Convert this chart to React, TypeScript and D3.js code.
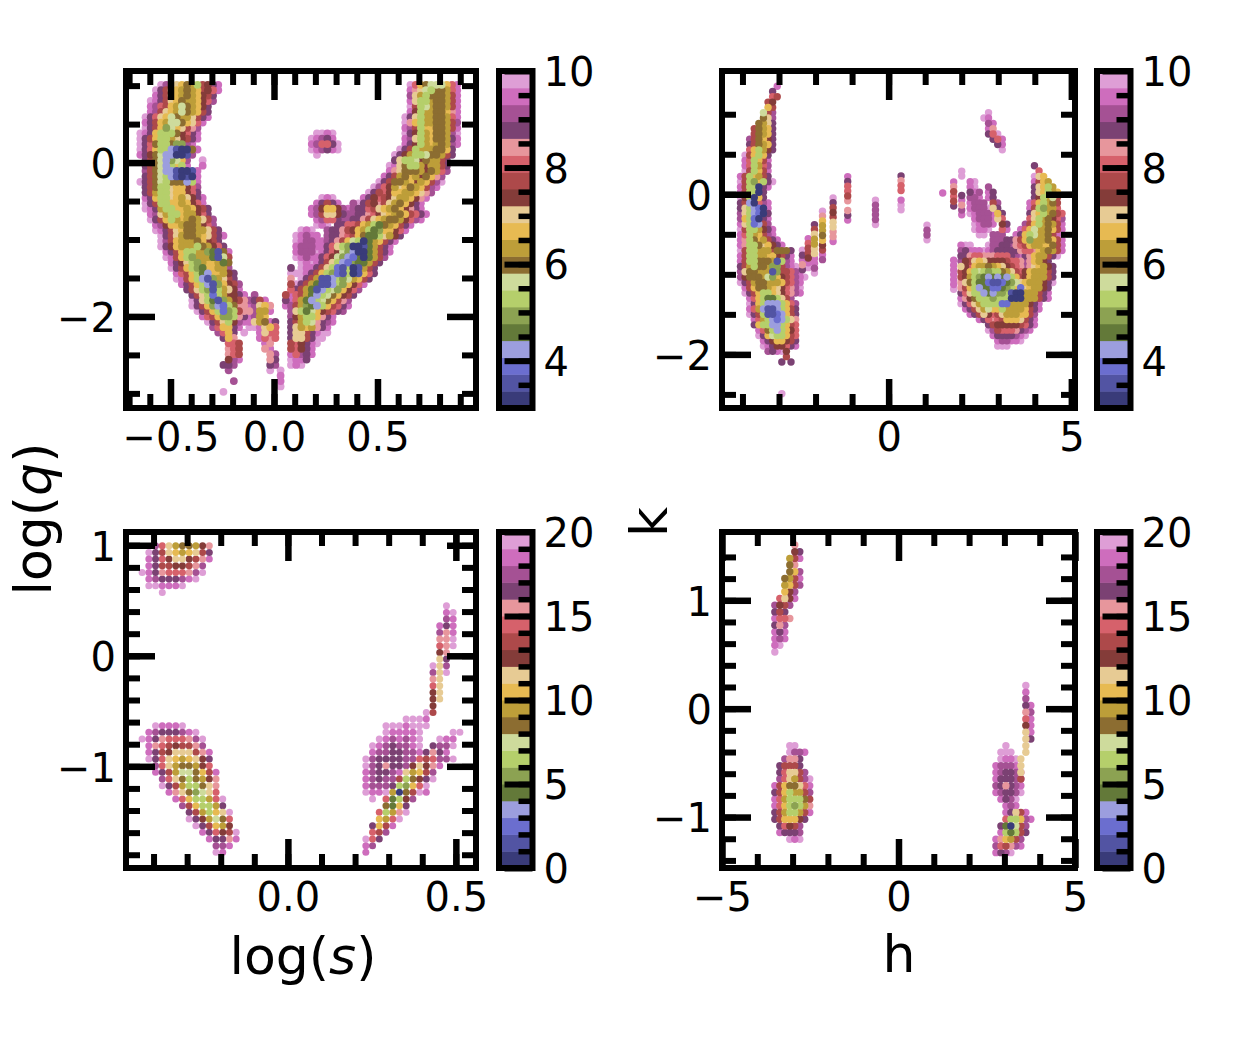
import { useEffect, useRef } from 'react';
import * as d3 from 'd3';

// tab20b, one letter per step a..t
const LEVELS = 'abcdefghijklmnopqrst';
const tab20b = [
    '#393b79', '#5254a3', '#6b6ecf', '#9c9ede', '#637939', '#8ca252', '#b5cf6b', '#cedb9c', '#8c6d31', '#bd9e39',
    '#e7ba52', '#e7cb94', '#843c39', '#ad494a', '#d6616b', '#e7969c', '#7b4173', '#a55194', '#ce6dbd', '#de9ed6',
];

type Row = [number, number, string]; // grid row, first grid column, one level letter per column

// top left, log(s) / log(q)
const aLeftBand: Row[] = [
    [0, 6, 'trolkijgnmqs'], [1, 5, 'tqnlkjijknmos'], [2, 5, 'sqnlkjijkmnq'], [3, 4, 'tsqnlkijjkmor'],
    [4, 4, 'sronkjhijkmq'], [5, 4, 'srnlkjhijknq'], [6, 3, 'tqolkhijjlnqs'], [7, 3, 'sqnkjhhiklos'],
    [8, 3, 'tqnkfhklnpr'], [9, 2, 'tsqkgggimoqs'], [10, 2, 'tqnkggjlmnqs'], [11, 2, 'tqoiggiffrs'],
    [12, 2, 'tqokggdbaais'], [13, 2, 'sqmihddaabr'], [14, 3, 'qnihdfhkr'], [14, 14, 't'],
    [15, 3, 'qnihdgkgs'], [15, 14, 's'], [16, 3, 'rnihddbaabs'], [17, 3, 'qnihgdbabas'],
    [18, 2, 'tqnihgiiidgs'], [19, 3, 'qnigglkkmor'], [20, 3, 'qnjgglkkmoq'], [21, 3, 'sqkgglkjlmqs'],
    [22, 3, 'tqnggkkjkmos'], [23, 3, 'tsqjggkkjkmnq'], [24, 4, 'srljggkjjmoq'], [25, 4, 'tqnkgjkjijlnr'],
    [26, 5, 'srmkkjiijmor'], [27, 5, 'tsqnlkiijjlnq'], [28, 6, 'tqnljiijklnqs'], [29, 6, 'trnkjjjikmnq'],
    [30, 6, 'tqmkjjjgijmoq'], [31, 7, 'sqnkggjjfebis'], [32, 7, 'tsnkgfjjjebhn'], [33, 8, 'sqmlgfjkkjei'],
    [34, 8, 'tqnkgfekkjjr'], [35, 9, 'sonkgedkkjmq'], [36, 9, 'tsnkgdbfjlnq'], [37, 10, 'sqnkgdbfkmnr'],
    [38, 11, 'qnlgfbgjlms'], [39, 12, 'qnlgcgjmmqs'], [39, 24, 'r'], [40, 12, 'tqlgebfjmnp'], [40, 23, 'rqns'],
    [41, 12, 'tqnkfdcgipps'], [41, 24, 'rlkp'], [42, 13, 'tqnkgcfgnpp'], [42, 24, 'rjjs'],
    [43, 14, 'sonkffgpqsrjk'], [44, 15, 'tqnlgmrss'], [44, 24, 'ljis'], [44, 28, 'q'],
    [45, 16, 'rokkqs'], [45, 23, 'tt'], [45, 25, 'slko'], [45, 28, 'p'],
    [46, 17, 'rokq'], [46, 22, 't'], [46, 25, 'slo'], [46, 28, 'o'],
    [47, 18, 'qkp'], [47, 25, 'sop'], [47, 28, 'o'], [48, 19, 'oon'], [48, 26, 'sp'],
    [49, 19, 'pon'], [49, 26, 'ps'], [50, 19, 'pon'], [50, 27, 'pr'], [51, 19, 'mrs'], [51, 27, 'pq'],
    [52, 18, 'qqr'], [52, 27, 'qr'], [53, 19, 'r'], [53, 27, 't'], [53, 29, 't'],
    [54, 29, 's'], [55, 20, 'r'], [55, 29, 's'], [56, 29, 't'], [57, 18, 't'],
];

const aRightBand: Row[] = [
    [0, 54, 'tokihhhkos'], [1, 54, 'splhgiijos'], [2, 54, 'rljgiiijns'], [3, 54, 'slggjiijns'],
    [4, 54, 'tnghjiijns'], [5, 54, 'smgjjiikps'], [6, 53, 'tqlgjjiijos'], [7, 53, 'tpkgjjiijnr'],
    [8, 53, 'srngkkiijns'], [9, 53, 'tqmgjkiijrt'], [10, 53, 'srlgjkiijqs'], [11, 53, 'sqmgjkjijrs'],
    [12, 52, 'tqngjjjiikq'], [13, 51, 'tqmjgghiijnq'], [14, 51, 'qlgghmijjnq'], [15, 50, 'tsliggjmjjnq'],
    [16, 50, 'spliiijmijor'], [17, 49, 'sqnjikjmikpr'], [18, 48, 'tqniijkmjknrt'], [19, 47, 'tromjlkijknrs'],
    [20, 46, 'tqnomkkjjklpr'], [21, 45, 'sqmonmljjkmps'], [22, 43, 'rtqnmpnljikmqs'], [23, 43, 'rqqonlkjikmpqs'],
    [24, 42, 'rrqqpomlkjiknoqs'], [25, 41, 'rrqqpnlkjiijmors'], [26, 40, 'qqoonkjgeijknqs'], [27, 38, 'rqqpnmkjgefkkmos'],
    [28, 38, 'rqqponkieegljmq'], [29, 37, 'srqpnkhgaejknqs'], [30, 37, 'sqolgfaabejnqs'], [31, 36, 'tsqomhfdaaejnqs'],
    [32, 36, 'sqomhfdceaejnr'], [33, 35, 'tsqnlgdcfeejnq'], [34, 34, 'tsqnlgcbgabjnq'], [35, 33, 'tsqnkgfcbgabkoq'],
    [36, 33, 'tqnjbbdgfhjknq'], [37, 32, 'tqnjebbdgfkmos'], [38, 32, 'qnjebdghfkmor'], [39, 31, 'sonjedghikmnq'],
    [40, 31, 'sojedghiknpr'], [41, 31, 'rnjfedgknoqs'], [41, 30, 's'], [42, 31, 'rlgehkmnoqr'], [43, 31, 'rmjggkpqs'],
    [44, 31, 'qnjghpqrs'], [45, 31, 'qljkjpqs'], [46, 31, 'qllnqs'], [46, 37, 'tt'], [47, 31, 'qllnqt'], [47, 37, 't'],
    [48, 31, 'nomqst'], [49, 31, 'nomqs'], [50, 31, 'sorqs'], [51, 31, 'tssq'], [52, 31, 'tst'],
];

const aIslands: Row[] = [
    [9, 36, 'ttst'], [10, 35, 'tsrqs'], [11, 35, 'srooqt'], [12, 35, 'tsrqst'], [13, 36, 't'],
    [21, 37, 'tst'], [22, 36, 'sqnqs'], [23, 35, 'srmkkmrs'], [24, 35, 'srnllmqs'], [25, 36, 'srooqs'], [26, 36, 'tst'],
    [27, 33, 'tst'], [28, 32, 'tsrss'], [29, 32, 'tsrrs'], [30, 32, 'srrrs'], [31, 32, 'srrrt'], [32, 32, 'tsrst'],
    [33, 33, 'tst'], [34, 31, 'q'], [34, 33, 'ts'], [35, 31, 'ttt'], [36, 31, 'p'], [37, 31, 'n'], [38, 31, 'o'], [39, 30, 'n'], [40, 30, 'q'],
];

// top right, h / k
const bLeftBand: Row[] = [
    [0, 9, 's'], [1, 8, 'q'], [2, 8, 'on'], [3, 7, 'nm'], [4, 7, 'kn'], [5, 6, 'hnr'], [6, 6, 'ilr'], [7, 5, 'ijlq'],
    [8, 4, 'nijkq'], [9, 4, 'nijkq'], [10, 3, 'rnikmq'], [11, 3, 'qnijkq'], [12, 3, 'okgjmq'], [13, 2, 'tnkgkq'],
    [14, 2, 'sogkns'], [15, 2, 'sogjor'], [16, 2, 'tngkns'], [17, 1, 'sngkjnq'], [18, 1, 'tngfkgqt'], [19, 1, 'snggaqs'],
    [20, 1, 'snggaq'], [21, 1, 'tmgakq'], [22, 1, 'qndaors'], [23, 1, 'qlgdcas'], [24, 1, 'rlgdcaq'], [25, 1, 'rkgcaqs'],
    [26, 1, 'slgcdnr'], [27, 1, 'tnggjmqs'], [28, 1, 'sogjknrs'], [29, 1, 'spgikjnqs'], [30, 1, 'spggilkmqs'],
    [31, 1, 'tnggjjjniiiq'], [32, 1, 'snggjjkkmnqs'], [33, 1, 'snggiiijbgrs'], [34, 1, 'qnjgiijffnrst'],
    [35, 1, 'rliijjjbfnnors'], [36, 1, 'rmiiijhfkmnorst'], [37, 1, 'tqnjiijjjknors'], [38, 2, 'snkiijklmoprt'],
    [39, 2, 'tqnkggklmoprs'], [40, 3, 'sokgeeglnr'], [41, 3, 'tqkgdddgkor'], [42, 3, 'sojdbbdgknq'], [43, 3, 'tqngbbcdknq'],
    [44, 4, 'sojgdcdglp'], [45, 4, 'qkggddgkno'], [46, 5, 'soigdgkmo'], [47, 5, 'tqkhggkno'], [48, 6, 'sqmkkmnq'],
    [49, 6, 'tsqmmoqs'], [50, 7, 'rqstm'], [51, 11, 'n'], [52, 10, 'q.q'], [58, 10, 't'],
];

const bRightBody: Row[] = [
    [5, 55, 't'], [6, 54, 'ts'], [7, 55, 'rs'], [8, 55, 'sp'], [9, 55, 'qot'], [10, 56, 'qos'], [11, 57, 'qs'], [12, 58, 't'],
    [15, 65, 'q'], [16, 66, 'o'], [17, 65, 'tlk'], [18, 65, 'snkj'], [18, 51, 'st'], [19, 51, 'st'], [19, 55, 'r'], [19, 65, 'qlkgj'],
    [20, 51, 'qsr'], [20, 55, 'sq'], [20, 65, 'qlkgjk'], [21, 51, 'rrs'], [21, 55, 'sq'], [21, 65, 'qmgjhn'],
    [22, 51, 'srrr'], [22, 56, 'nr'], [22, 64, 'sokgjin'], [23, 51, 'srrrt'], [23, 56, 'lq'], [23, 64, 'sngfjjo'],
    [24, 51, 'tsrrrs'], [24, 57, 'kq'], [24, 64, 'qlkgjino'], [25, 52, 'srrrs'], [25, 57, 'lo'], [25, 64, 'olgjimor'],
    [26, 52, 'tsrrs'], [26, 58, 'mq'], [26, 63, 'rnkgjijns'], [27, 52, 'tsst'], [27, 58, 'os'], [27, 62, 'sokhjjikns'],
    [28, 53, 'tt'], [28, 56, 'rrr'], [28, 61, 'sqkghjjins'], [29, 56, 'rrrqqpnkfjjjikns'],
    [30, 49, 'stt'], [30, 55, 'trrqqrponkjjkkins'], [31, 49, 'rqssstsrqqqqqpoopkjijns'],
    [32, 49, 'qqpoopppoooqrsqpkjjnqt'], [33, 49, 'rmnlklmmmmnooprpkjmq'],
    [34, 49, 'lmokjjijklmnoprplkjmq'], [35, 49, 'nmkghgfggijlnomkjjjnq'], [36, 49, 'nmjgfedededgknmkjjjnq'],
    [37, 49, 'pligeecbbcefhlkjjjmqt'], [38, 49, 'pnkgdeeccefgkclkjjmq'], [39, 49, 'qolggdedffgbaajjjnqs'],
    [40, 49, 'spmigggfgggaaajjjnqs'], [41, 49, 'tqoljggggccjjjjmqs'], [42, 50, 'sqnljhkkgjjjjknqs'],
    [43, 51, 'sqnlmonljjjkknr'], [44, 53, 'sqoponkkklnqs'], [45, 55, 'qnmmmmmnoqs'], [46, 55, 'trnooopqrs'],
    [47, 56, 'sqqqqrst'], [48, 57, 'srrsst'], [49, 57, 'ttt'],
];

// isolated vertical runs of the top right panel: h, first k, levels going down
const bStrips: [number, number, string][] = [
    [-2.36, -0.7, 'tqspq'], [-2.2, -0.554, 'sonnmst'], [-2.03, -0.379, 'qnljjllssrt'], [-1.81, -0.2125, 'tpkjjikmnsr'],
    [-1.52, -0.046, 'tqnmnllpps'], [-1.12, 0.221, 'sqoonp.pqs'], [-0.36, -0.075, 'trrrrt'], [0.34, 0.229, 'qpoo.stt'],
    [1.05, -0.3875, 'trrt'], [1.48, 0.016, 's'], [1.78, 0.154, 'spnonq'], [1.78, -0.825, 'sssssst'], [2.0, 0.2875, 'tt...qsprs'],
];

// bottom left, log(s) / log(q)
const cLeftGroup: Row[] = [
    [0, 2, 'roljiijmp'], [1, 1, 'tqnlkjklnq'], [2, 1, 'sqomllmnps'], [3, 1, 'sqnnmmnpr'],
    [4, 0, 'tsqpoooprt'], [5, 1, 'srqqqrst'], [6, 1, 'ttssst'], [7, 3, 't'],
    [27, 2, 'tssst'], [28, 1, 'srqqqrst'], [29, 0, 'tsqpoooprt'], [30, 1, 'sponmnnpr'],
    [31, 1, 'sqnmlllnps'], [32, 1, 'tqolkjklmq'], [33, 2, 'roljiijmo'], [34, 2, 'sqnjhhikns'],
    [35, 3, 'roligijmp'], [36, 3, 'tqnjggilp'], [37, 4, 'splifhlo'], [38, 5, 'sokggjot'], [39, 6, 'rnkggjq'],
    [40, 7, 'qnjgklt'], [41, 7, 'tqmjhio'], [42, 8, 'tqnkjm'], [43, 9, 'sqomnt'], [44, 10, 'sqqps'], [45, 11, 'rrs'], [46, 11, 'ts'],
];

const cRightGroup: Row[] = [
    [9, 12, 't'], [10, 12, 'st'], [11, 12, 'rs'], [12, 11, 'sqs'], [13, 11, 'rps'], [14, 11, 'ppt'], [15, 11, 'opt'],
    [16, 11, 'mp'], [17, 11, 'lq'], [18, 10, 'tlr'], [19, 10, 'rlt'], [20, 10, 'pl'], [21, 10, 'ol'], [22, 10, 'ml'], [23, 10, 'ml'],
    [24, 10, 'm'], [25, 9, 'tn'], [26, 6, 'ttts'], [27, 3, 'tttsttt'], [28, 3, 'tsssst'], [28, 13, 'tt'],
    [29, 2, 'tsrsrst'], [29, 11, 'tss'], [30, 1, 'tsrqrrst'], [30, 10, 'qrrt'], [31, 1, 'srrqqrrs'], [31, 9, 'qpqs'],
    [32, 0, 'trqqqqrronorrt'], [33, 0, 'trqpqqrmlmps'], [34, 0, 'srqqrsljknr'], [35, 0, 'srqrrngimqt'],
    [36, 0, 'srrrqgfkot'], [37, 0, 'tsstjaints'], [38, 1, 't'], [38, 3, 'oegmr'], [39, 3, 'iekq'], [40, 2, 'ogjpt'],
    [41, 2, 'kjot'], [42, 1, 'qkns'], [43, 1, 'onr'], [44, 0, 'toq'], [45, 0, 'sr'], [46, 0, 's'],
];

// bottom right, h / k
const dLeftGroup: Row[] = [
    [0, 4, 'p'], [1, 4, 'mq'], [2, 3, 'jns'], [3, 3, 'ip'], [4, 3, 'ikr'], [5, 2, 'ijns'], [6, 2, 'jknr'], [7, 2, 'kmr'],
    [8, 1, 'olms'], [9, 0, 'rmnr'], [10, 0, 'qnq'], [11, 0, 'soop'], [12, 0, 'qpr'], [13, 0, 'sqs'], [14, 0, 'srs'], [15, 0, 'st'], [16, 0, 't'],
    [30, 3, 'tt'], [31, 3, 'trrs'], [32, 2, 'rppq'], [33, 1, 'qnnnq'], [34, 1, 'qollnr'], [35, 1, 'roljnrt'], [36, 0, 'snkiilos'],
    [37, 0, 'qnkgjjnr'], [38, 0, 'sojgggin'], [39, 0, 'sokgfgjp'], [40, 0, 'qnjggjns'], [41, 0, 'qnkkkmq'], [42, 1, 'qomnr'], [43, 1, 'sqqqr'], [44, 3, 'tst'],
];

const dRightGroup: Row[] = [
    [21, 6, 't'], [22, 6, 's'], [23, 6, 'r'], [24, 6, 'qs'], [25, 6, 'pr'], [26, 6, 'os'], [27, 6, 'ms'], [28, 6, 'ls'], [29, 6, 'lq'],
    [30, 2, 't'], [30, 6, 'l'], [31, 1, 'ttt'], [31, 6, 'l'], [32, 1, 'tsst'], [32, 5, 'l'], [33, 0, 'srrrs'], [33, 5, 'l'],
    [34, 0, 'srqqrs'], [34, 5, 'l'], [35, 0, 'sqqqrs'], [35, 5, 'n'], [36, 0, 'rqpqrs'], [37, 0, 'srqqrt'], [38, 1, 'sqrt'], [39, 2, 'srs'],
    [40, 2, 'sqlns'], [41, 2, 'oggkrs'], [42, 1, 'qeahnr'], [43, 1, 'sgegnq'], [44, 0, 'spkjnr'], [45, 0, 'ronprs'], [46, 0, 'sqrt'],
];

const aXTicks = [-0.5, 0, 0.5];
const aYTicks = [-2, 0];
const bXTicks = [0, 5];
const bYTicks = [-2, 0];
const cXTicks = [0, 0.5];
const cYTicks = [-1, 0, 1];
const dXTicks = [-5, 0, 5];
const dYTicks = [-1, 0, 1];
const barTicksTop = [4, 6, 8, 10];
const barTicksBottom = [0, 5, 10, 15, 20];

interface Grid { rows: Row[]; x0: number; dx: number; y0: number; dy: number }
interface Point { x: number; y: number; level: number }

function gridPoints({ rows, x0, dx, y0, dy }: Grid): Point[] {
    const out: Point[] = [];
    rows.forEach(([r, c, levels]) => {
        levels.split('').forEach((ch, i) => {
            if (ch === '.') return;
            out.push({ x: x0 + (c + i) * dx, y: y0 + r * dy, level: LEVELS.indexOf(ch) });
        });
    });
    return out;
}

function stripPoints(strips: [number, number, string][], dy: number): Point[] {
    const out: Point[] = [];
    strips.forEach(([x, top, levels]) => {
        levels.split('').forEach((ch, i) => {
            if (ch === '.') return;
            out.push({ x, y: top + i * dy, level: LEVELS.indexOf(ch) });
        });
    });
    return out;
}

const panels = [
    {
        box: [126, 476, 71, 408], xDomain: [-0.715, 0.976], yDomain: [-3.19, 1.19], xTicks: aXTicks, yTicks: aYTicks, radius: 3.9,
        xMinor: d3.range(-0.7, 0.95, 0.1), yMinor: d3.range(-3, 1.1, 0.5), xFormat: d3.format('.1f'),
        bar: { x: [499, 532.5], domain: [3.02, 10], ticks: barTicksTop, minor: d3.range(3.5, 10, 0.5) },
        points: [
            ...gridPoints({ rows: aLeftBand, x0: -0.696, dx: 0.0251, y0: 1.01, dy: -0.07 }),
            ...gridPoints({ rows: aRightBand, x0: -0.696, dx: 0.0251, y0: 1.01, dy: -0.07 }),
            ...gridPoints({ rows: aIslands, x0: -0.696, dx: 0.0251, y0: 1.01, dy: -0.07 }),
        ],
    },
    {
        box: [722, 1075, 71, 408], xDomain: [-4.56, 5.1], yDomain: [-2.67, 1.54], xTicks: bXTicks, yTicks: bYTicks, radius: 3.7,
        xMinor: d3.range(-4, 5, 1), yMinor: d3.range(-2.5, 1.5, 0.5), xFormat: d3.format('d'),
        bar: { x: [1097, 1130.5], domain: [3.02, 10], ticks: barTicksTop, minor: d3.range(3.5, 10, 0.5) },
        points: [
            ...gridPoints({ rows: bLeftBand, x0: -4.18, dx: 0.1257, y0: 1.35, dy: -0.06625 }),
            ...gridPoints({ rows: bRightBody, x0: -4.18, dx: 0.1257, y0: 1.35, dy: -0.06625 }),
            ...stripPoints(bStrips, -0.0604),
        ],
    },
    {
        box: [126, 476, 532, 868], xDomain: [-0.482, 0.56], yDomain: [-1.92, 1.12], xTicks: cXTicks, yTicks: cYTicks, radius: 3.5,
        xMinor: d3.range(-0.4, 0.55, 0.1), yMinor: d3.range(-1.8, 1.1, 0.2), xFormat: d3.format('.1f'),
        bar: { x: [499, 532.5], domain: [0, 20], ticks: barTicksBottom, minor: d3.range(1, 20, 1) },
        points: [
            ...gridPoints({ rows: cLeftGroup, x0: -0.434, dx: 0.02, y0: 0.9955, dy: -0.0603 }),
            ...gridPoints({ rows: cRightGroup, x0: 0.232, dx: 0.02, y0: 0.9955, dy: -0.0603 }),
        ],
    },
    {
        box: [722, 1075, 532, 868], xDomain: [-5, 5], yDomain: [-1.47, 1.63], xTicks: dXTicks, yTicks: dYTicks, radius: 3.7,
        xMinor: d3.range(-4, 5, 1), yMinor: d3.range(-1.4, 1.6, 0.2), xFormat: d3.format('d'),
        bar: { x: [1097, 1130.5], domain: [0, 20], ticks: barTicksBottom, minor: d3.range(1, 20, 1) },
        points: [
            ...gridPoints({ rows: dLeftGroup, x0: -3.503, dx: 0.1412, y0: 1.51, dy: -0.0617 }),
            ...gridPoints({ rows: dRightGroup, x0: 2.76, dx: 0.1412, y0: 1.51, dy: -0.0617 }),
        ],
    },
];

const FONT = '"DejaVu Sans", sans-serif';
const TICK_FONT = 40;

function styleAxis(g: d3.Selection<SVGGElement, unknown, null, undefined>, width: number, shiftY: number) {
    g.select('.domain').remove();
    g.selectAll('.tick line').attr('stroke', '#000').attr('stroke-width', width);
    g.selectAll('.tick text').attr('fill', '#000').attr('font-size', TICK_FONT).attr('font-family', FONT);
    if (shiftY) g.selectAll('.tick text').attr('y', shiftY);
}

export default function App() {
    const svgRef = useRef<SVGSVGElement>(null);

    useEffect(() => {
        if (!svgRef.current) return;
        const svg = d3.select(svgRef.current);
        svg.selectAll('*').remove();

        panels.forEach(p => {
            const [left, right, top, bottom] = p.box;
            const x = d3.scaleLinear().domain(p.xDomain).range([left, right]);
            const y = d3.scaleLinear().domain(p.yDomain).range([bottom, top]);

            const sorted = [...p.points].sort((a, b) => b.level - a.level);
            svg.append('g')
                .selectAll('circle')
                .data(sorted)
                .enter()
                .append('circle')
                .attr('cx', d => x(d.x))
                .attr('cy', d => y(d.y))
                .attr('r', p.radius)
                .attr('fill', d => tab20b[d.level]);

            const none = () => '';
            const addAxis = (axis: d3.Axis<d3.NumberValue>, tx: number, ty: number, w: number, shiftY = 0) => {
                const g = svg.append('g').attr('transform', `translate(${tx},${ty})`).call(axis as never);
                styleAxis(g as never, w, shiftY);
            };

            const major = 29;
            const minor = 14;
            addAxis(d3.axisBottom(x).tickValues(p.xMinor).tickSize(-minor).tickFormat(none), 0, bottom, 6);
            addAxis(d3.axisTop(x).tickValues(p.xMinor).tickSize(-minor).tickFormat(none), 0, top, 6);
            addAxis(d3.axisLeft(y).tickValues(p.yMinor).tickSize(-minor).tickFormat(none), left, 0, 6);
            addAxis(d3.axisRight(y).tickValues(p.yMinor).tickSize(-minor).tickFormat(none), right, 0, 6);
            addAxis(d3.axisBottom(x).tickValues(p.xTicks).tickSize(-major).tickPadding(15).tickFormat(p.xFormat as never), 0, bottom, 6.5);
            addAxis(d3.axisTop(x).tickValues(p.xTicks).tickSize(-major).tickFormat(none), 0, top, 6.5);
            addAxis(d3.axisLeft(y).tickValues(p.yTicks).tickSize(-major).tickPadding(10).tickFormat(d3.format('d') as never), left, 0, 6.5, 2);
            addAxis(d3.axisRight(y).tickValues(p.yTicks).tickSize(-major).tickFormat(none), right, 0, 6.5);

            svg.append('rect')
                .attr('x', left).attr('y', top)
                .attr('width', right - left).attr('height', bottom - top)
                .attr('fill', 'none').attr('stroke', '#000').attr('stroke-width', 6);

            // colorbar, 20 flat steps
            const [barLeft, barRight] = p.bar.x;
            const barY = d3.scaleLinear().domain(p.bar.domain).range([bottom, top]);
            const stepH = (bottom - top) / tab20b.length;
            svg.append('g')
                .selectAll('rect')
                .data(tab20b)
                .enter()
                .append('rect')
                .attr('x', barLeft)
                .attr('y', (_, i) => bottom - (i + 1) * stepH)
                .attr('width', barRight - barLeft)
                .attr('height', stepH + 0.5)
                .attr('fill', d => d);

            addAxis(d3.axisRight(barY).tickValues(p.bar.minor).tickSize(-14).tickFormat(none), barRight, 0, 5.5);
            addAxis(d3.axisRight(barY).tickValues(p.bar.ticks).tickSize(-28).tickPadding(11).tickFormat(d3.format('d') as never), barRight, 0, 6, 2);

            svg.append('rect')
                .attr('x', barLeft).attr('y', top)
                .attr('width', barRight - barLeft).attr('height', bottom - top)
                .attr('fill', 'none').attr('stroke', '#000').attr('stroke-width', 6);
        });

        const label = (tx: number, ty: number, rotate: number, parts: [string, boolean][]) => {
            const t = svg.append('text')
                .attr('transform', `translate(${tx},${ty}) rotate(${rotate})`)
                .attr('text-anchor', 'middle')
                .attr('font-size', 52)
                .attr('font-family', FONT)
                .attr('fill', '#000');
            parts.forEach(([s, italic]) => t.append('tspan').attr('font-style', italic ? 'italic' : 'normal').text(s));
        };
        label(303, 974, 0, [['log(', false], ['s', true], [')', false]]);
        label(899, 972, 0, [['h', false]]);
        label(51, 519, -90, [['log(', false], ['q', true], [')', false]]);
        label(667, 522, -90, [['k', false]]);
    }, []);

    return <svg ref={svgRef} width={1250} height={1041} style={{ position: 'absolute', left: 0, top: 0, display: 'block', background: '#fff' }} />;
}
